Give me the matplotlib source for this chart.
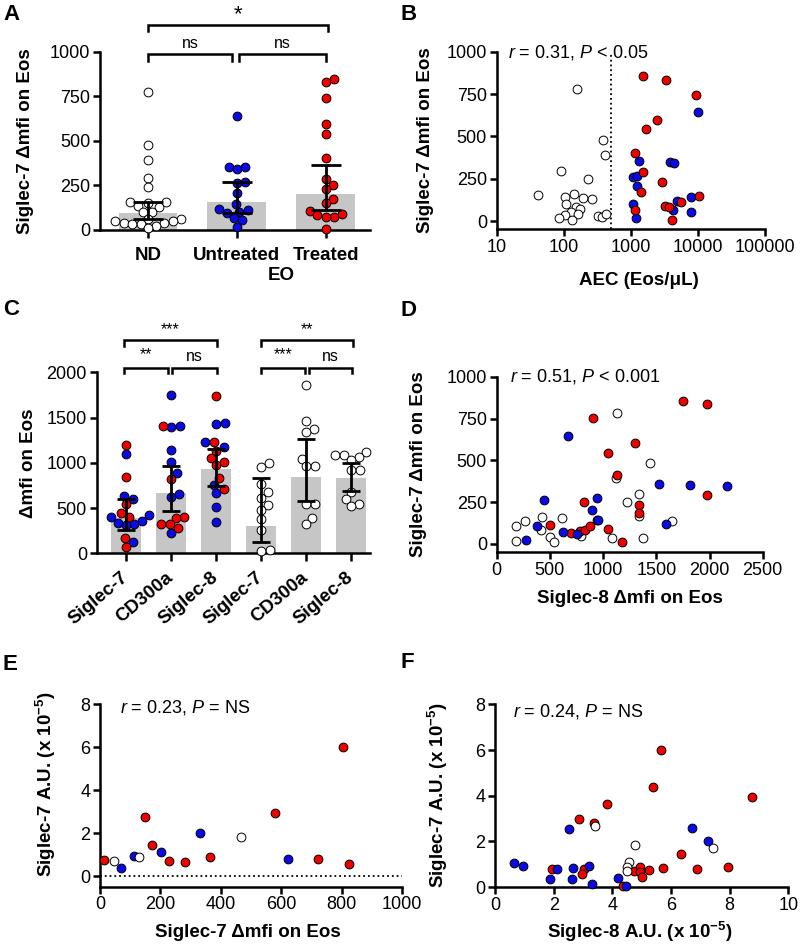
import numpy as np
import matplotlib
matplotlib.use('Agg')
import matplotlib.pyplot as plt
from matplotlib.ticker import NullFormatter

plt.rcParams['font.family'] = ['Liberation Sans', 'DejaVu Sans']
plt.rcParams['mathtext.fontset'] = 'custom'
plt.rcParams['mathtext.rm'] = 'Liberation Sans'
plt.rcParams['mathtext.it'] = 'Liberation Sans:italic'
plt.rcParams['mathtext.bf'] = 'Liberation Sans:bold'

RED = '#f20000'
BLUE = '#0a0ae6'
WHITE = 'white'
GREY = '#c6c6c6'
LABEL_FS = 13.5
TICK_FS = 13

# ---- panel A: Siglec-7 dmfi per group ----
a_groups = ['ND', 'Untreated', 'Treated']
a_nd = [776, 480, 391, 293, 243, 159, 159, 150, 137, 131, 103, 99, 62, 60, 52, 48, 41, 40, 35, 35, 24, 9]
a_untreated = [639, 356, 352, 342, 271, 262, 206, 146, 118, 112, 103, 93, 66, 56, 19]
a_treated = [850, 832, 744, 594, 542, 407, 287, 253, 230, 172, 150, 109, 88, 84, 75, 75, 6]
a_bar = [93, 157, 200]
a_lo = [62, 93, 112]
a_hi = [159, 267, 364]

# ---- panel B: Siglec-7 vs AEC ----
b_white_x = [160, 387, 405, 90, 230, 41, 103, 143, 195, 265, 108, 151, 174, 127, 163, 104, 86, 132, 327, 365, 425]
b_white_y = [778, 480, 390, 295, 246, 157, 140, 159, 134, 132, 100, 85, 69, 51, 41, 35, 16, 6, 31, 26, 43]
b_blue_x = [10000, 1300, 3800, 4380, 1060, 1215, 1255, 7770, 4900, 1070, 4270, 7770, 1200]
b_blue_y = [642, 356, 348, 344, 260, 268, 205, 144, 116, 102, 63, 53, 16]
b_red_x = [1515, 3390, 9360, 2450, 1700, 1135, 1515, 2950, 1410, 10500, 1135, 3240, 3700, 5600, 4090]
b_red_y = [854, 833, 746, 598, 543, 405, 287, 232, 171, 150, 65, 87, 85, 110, 8]

# ---- panel C: dmfi of three receptors, EO (red/blue) and ND (white) ----
c_labels = ['Siglec-7', 'CD300a', 'Siglec-8', 'Siglec-7', 'CD300a', 'Siglec-8']
c_red = [[1197, 846, 545, 440, 400, 166, 70],
         [1410, 824, 398, 391, 324, 324, 283],
         [1741, 1226, 1134, 1050, 1005, 975, 830, 711]]
c_blue = [[1094, 637, 597, 420, 398, 361, 340, 324, 310, 128],
          [1749, 1406, 1392, 1141, 1006, 891, 652, 619, 221],
          [1443, 1429, 1233, 1178, 755, 664, 508, 350]]
c_white = [[994, 950, 766, 674, 615, 534, 478, 379, 254, 36, 25],
           [1860, 1466, 1370, 1340, 1042, 961, 961, 545, 545, 390, 324],
           [1123, 1086, 1083, 1068, 1031, 920, 920, 681, 597, 545, 523]]
c_bar = [387, 670, 928, 306, 847, 836]
c_lo = [258, 471, 744, 122, 578, 689]
c_hi = [597, 965, 1153, 829, 1260, 994]

# ---- panel D: Siglec-7 vs Siglec-8 dmfi ----
d_red_x = [1754, 1980, 908, 1300, 1049, 1134, 824, 1335, 1335, 1974, 504, 698, 783, 830, 877, 940, 1043, 1175]
d_red_y = [857, 837, 751, 602, 547, 414, 250, 234, 185, 294, 115, 66, 75, 81, 109, 141, 89, 12]
d_blue_x = [674, 448, 940, 899, 955, 382, 627, 752, 273, 1529, 1817, 2168, 1588]
d_blue_y = [646, 264, 274, 205, 145, 105, 72, 60, 22, 358, 350, 348, 119]
d_white_x = [1128, 1441, 1118, 1341, 1228, 1335, 1645, 1378, 1081, 182, 266, 182, 429, 417, 501, 542, 611, 789]
d_white_y = [781, 483, 394, 298, 250, 165, 135, 36, 34, 105, 139, 20, 161, 85, 42, 12, 155, 46]

# ---- panel E: Siglec-7 A.U. vs Siglec-7 dmfi ----
e_red_x = [14, 148, 173, 228, 282, 364, 579, 806, 721, 826]
e_red_y = [0.75, 2.76, 1.44, 0.70, 0.67, 0.87, 2.95, 6.02, 0.79, 0.56]
e_blue_x = [68, 113, 203, 332, 622]
e_blue_y = [0.36, 0.93, 1.10, 2.02, 0.79]
e_white_x = [47, 129, 466]
e_white_y = [0.70, 0.89, 1.83]

# ---- panel F: Siglec-7 A.U. vs Siglec-8 A.U. ----
f_red_x = [5.67, 5.37, 3.82, 2.85, 3.39, 8.76, 6.34, 1.94, 3.03, 2.97, 4.74, 4.93, 4.93, 5.0, 5.25, 5.73, 6.88, 7.93, 4.37]
f_red_y = [6.01, 4.36, 3.63, 2.97, 2.79, 3.93, 1.45, 0.77, 0.77, 0.56, 0.70, 0.89, 0.64, 0.42, 0.75, 0.85, 0.79, 0.86, 0.04]
f_blue_x = [0.63, 0.95, 1.86, 2.11, 2.53, 2.65, 2.63, 3.22, 3.29, 4.19, 4.45, 6.70, 7.27]
f_blue_y = [1.07, 0.92, 0.34, 0.77, 2.53, 0.85, 0.37, 0.92, 0.12, 0.41, 0.04, 2.60, 2.02]
f_white_x = [3.42, 4.77, 4.57, 4.51, 4.49, 7.44]
f_white_y = [2.68, 1.84, 1.11, 0.89, 0.70, 1.70]


def style(ax):
    for side in ['top', 'right']:
        ax.spines[side].set_visible(False)
    for side in ['left', 'bottom']:
        ax.spines[side].set_linewidth(1.8)
    ax.tick_params(width=1.8, length=5, labelsize=TICK_FS, pad=2)


def dots(ax, x, y, color):
    ax.scatter(x, y, s=40, facecolor=color, edgecolor='black', linewidth=0.7,
               zorder=3, clip_on=False)


def swarm(ax, xc, yvals, diam=8.6):
    # simple beeswarm in pixel space, returns x positions in data units
    yvals = np.asarray(yvals, float)
    pts = ax.transData.transform(np.column_stack([np.full(len(yvals), xc), yvals]))
    x0, ypx = pts[0, 0], pts[:, 1]
    xs = np.zeros(len(yvals))
    placed = []
    for i in np.argsort(ypx):
        y = ypx[i]
        cands = [0.0]
        for px, py in placed:
            dy = y - py
            if abs(dy) < diam:
                dx = np.sqrt(diam ** 2 - dy ** 2)
                cands += [px + dx, px - dx]
        cands.sort(key=abs)
        for c in cands:
            if all((c - px) ** 2 + (y - py) ** 2 >= diam ** 2 - 1e-6 for px, py in placed):
                break
        placed.append((c, y))
        xs[i] = c
    back = ax.transData.inverted().transform(np.column_stack([x0 + xs, ypx]))
    return back[:, 0]


def bracket(ax, x1, x2, y, leg, label, ty, size=11.5):
    ax.plot([x1, x1, x2, x2], [y - leg, y, y, y - leg], color='black', lw=1.8,
            clip_on=False, solid_joinstyle='miter')
    ax.text((x1 + x2) / 2, ty, label, ha='center', va='center', fontsize=size)


def rp_text(ax, x, y, txt):
    ax.text(x, y, txt, transform=ax.transAxes, fontsize=TICK_FS, va='center', ha='left')


fig = plt.figure(figsize=(8, 9.5), dpi=100)

# ================= A =================
ax = fig.add_axes([0.125, 0.7579, 0.3375, 0.1874])
style(ax)
ax.set_xlim(-0.54, 2.5)
ax.set_ylim(0, 1000)
ax.set_yticks([0, 250, 500, 750, 1000])
xa = np.arange(len(a_groups))
ax.bar(xa, a_bar, width=0.66, color=GREY, zorder=1)
for i, (vals, col) in enumerate([(a_nd, WHITE), (a_untreated, BLUE), (a_treated, RED)]):
    dots(ax, swarm(ax, i, vals), vals, col)
a_bar_arr = np.array(a_bar)
ax.errorbar(xa, a_bar, yerr=[a_bar_arr - a_lo, np.array(a_hi) - a_bar_arr], fmt='none',
            ecolor='black', elinewidth=2, capsize=10.5, capthick=2, zorder=4)
ax.set_xticks(xa)
ax.set_xticklabels(a_groups, fontsize=LABEL_FS, fontweight='bold')
ax.tick_params(axis='x', length=6, pad=6)
ax.text(1.5, -0.255, 'EO', transform=ax.get_xaxis_transform(), ha='center', va='center',
        fontsize=LABEL_FS, fontweight='bold')
ax.set_ylabel('Siglec-7 \u0394mfi on Eos', fontsize=LABEL_FS, fontweight='bold')
ax.yaxis.set_label_coords(-0.245, 0.5)
bracket(ax, 0, 0.95, 988, 40, 'ns', 1050)
bracket(ax, 1.03, 2.0, 988, 40, 'ns', 1050)
bracket(ax, 0, 2.03, 1150, 32, '*', 1210, size=16)

# ================= B =================
ax = fig.add_axes([0.6209, 0.7589, 0.3354, 0.1866])
style(ax)
ax.set_xscale('log')
ax.set_xlim(10, 100000)
ax.set_ylim(-47, 1000)
ax.set_yticks([0, 250, 500, 750, 1000])
ax.set_xticks([10, 100, 1000, 10000, 100000])
ax.set_xticklabels(['10', '100', '1000', '10000', '100000'])
ax.xaxis.set_minor_formatter(NullFormatter())
ax.tick_params(axis='x', which='minor', width=1.4, length=3)
ax.axvline(500, color='black', ls=':', lw=1.3)
dots(ax, b_white_x, b_white_y, WHITE)
dots(ax, b_blue_x, b_blue_y, BLUE)
dots(ax, b_red_x, b_red_y, RED)
ax.set_ylabel('Siglec-7 \u0394mfi on Eos', fontsize=LABEL_FS, fontweight='bold')
ax.yaxis.set_label_coords(-0.235, 0.5)
ax.set_xlabel('AEC (Eos/\u03bcL)', fontsize=LABEL_FS, fontweight='bold')
ax.xaxis.label.set_va('center')
ax.xaxis.set_label_coords(0.528, -0.293)
rp_text(ax, 0.042, 0.995, '$\\it{r}$ = 0.31, $\\it{P}$ < 0.05')

# ================= C =================
ax = fig.add_axes([0.1209, 0.4176, 0.3416, 0.1905])
style(ax)
ax.set_xlim(-0.65, 5.42)
ax.set_ylim(0, 2000)
ax.set_yticks([0, 500, 1000, 1500, 2000])
xc = np.arange(len(c_labels))
ax.bar(xc, c_bar, width=0.67, color=GREY, zorder=1)
for i in range(3):
    vals = c_red[i] + c_blue[i]
    xs = swarm(ax, i, vals)
    nr = len(c_red[i])
    dots(ax, xs[nr:], c_blue[i], BLUE)
    dots(ax, xs[:nr], c_red[i], RED)
for i in range(3):
    dots(ax, swarm(ax, i + 3, c_white[i]), c_white[i], WHITE)
c_bar_arr = np.array(c_bar)
ax.errorbar(xc, c_bar, yerr=[c_bar_arr - c_lo, np.array(c_hi) - c_bar_arr], fmt='none',
            ecolor='black', elinewidth=2, capsize=6.5, capthick=2, zorder=4)
ax.set_xticks(xc)
ax.set_xticklabels(c_labels, fontsize=LABEL_FS, fontweight='bold', rotation=40,
                   ha='right', va='center', rotation_mode='anchor')
ax.tick_params(axis='x', length=6, pad=10)
ax.set_ylabel('\u0394mfi on Eos', fontsize=LABEL_FS, fontweight='bold')
ax.yaxis.set_label_coords(-0.22, 0.5)
bracket(ax, -0.04, 0.93, 2053, 57, '**', 2195)
bracket(ax, 1.02, 2.02, 2053, 57, 'ns', 2180)
bracket(ax, -0.04, 2.02, 2357, 63, '***', 2470)
bracket(ax, 3.0, 3.98, 2053, 57, '***', 2195)
bracket(ax, 4.07, 5.03, 2053, 57, 'ns', 2180)
bracket(ax, 3.0, 5.05, 2357, 63, '**', 2470)

# ================= D =================
ax = fig.add_axes([0.6209, 0.4186, 0.3325, 0.1848])
style(ax)
ax.set_xlim(0, 2500)
ax.set_ylim(-50, 1000)
ax.set_yticks([0, 250, 500, 750, 1000])
ax.set_xticks([0, 500, 1000, 1500, 2000, 2500])
dots(ax, d_white_x, d_white_y, WHITE)
dots(ax, d_red_x, d_red_y, RED)
dots(ax, d_blue_x, d_blue_y, BLUE)
ax.set_ylabel('Siglec-7 \u0394mfi on Eos', fontsize=LABEL_FS, fontweight='bold')
ax.yaxis.set_label_coords(-0.262, 0.5)
ax.set_xlabel('Siglec-8 \u0394mfi on Eos', fontsize=LABEL_FS, fontweight='bold')
ax.xaxis.label.set_va('center')
ax.xaxis.set_label_coords(0.5, -0.262)
rp_text(ax, 0.05, 1.0, '$\\it{r}$ = 0.51, $\\it{P}$ < 0.001')

# ================= E =================
ax = fig.add_axes([0.125, 0.0666, 0.3775, 0.192])
style(ax)
ax.set_xlim(0, 1000)
ax.set_ylim(-0.5, 8)
ax.set_yticks([0, 2, 4, 6, 8])
ax.set_xticks([0, 200, 400, 600, 800, 1000])
ax.axhline(0, color='black', ls=':', lw=1.3)
dots(ax, e_red_x, e_red_y, RED)
dots(ax, e_blue_x, e_blue_y, BLUE)
dots(ax, e_white_x, e_white_y, WHITE)
ax.set_ylabel('Siglec-7 A.U. (x 10$^{\\mathbf{-5}}$)', fontsize=LABEL_FS, fontweight='bold')
ax.yaxis.set_label_coords(-0.139, 0.56)
ax.set_xlabel('Siglec-7 \u0394mfi on Eos', fontsize=LABEL_FS, fontweight='bold')
ax.xaxis.label.set_va('center')
ax.xaxis.set_label_coords(0.491, -0.252)
rp_text(ax, 0.066, 0.98, '$\\it{r}$ = 0.23, $\\it{P}$ = NS')

# ================= F =================
ax = fig.add_axes([0.6188, 0.0663, 0.3666, 0.1923])
style(ax)
ax.set_xlim(0, 10)
ax.set_ylim(0, 8)
ax.set_yticks([0, 2, 4, 6, 8])
ax.set_xticks([0, 2, 4, 6, 8, 10])
dots(ax, f_red_x, f_red_y, RED)
dots(ax, f_blue_x, f_blue_y, BLUE)
dots(ax, f_white_x, f_white_y, WHITE)
ax.set_ylabel('Siglec-7 A.U. (x 10$^{\\mathbf{-5}}$)', fontsize=LABEL_FS, fontweight='bold')
ax.yaxis.set_label_coords(-0.153, 0.5)
ax.set_xlabel('Siglec-8 A.U. (x 10$^{\\mathbf{-5}}$)', fontsize=LABEL_FS, fontweight='bold')
ax.xaxis.label.set_va('center')
ax.xaxis.set_label_coords(0.494, -0.246)
rp_text(ax, 0.062, 0.96, '$\\it{r}$ = 0.24, $\\it{P}$ = NS')

# panel letters
for letter, x, y in [('A', 3, 14), ('B', 401, 14), ('C', 3, 309), ('D', 401, 310),
                     ('E', 3, 664), ('F', 401, 663)]:
    fig.text(x / 800, 1 - y / 950, letter, fontsize=16, fontweight='bold', va='center', ha='left')

fig.savefig('out.png', dpi=100)
